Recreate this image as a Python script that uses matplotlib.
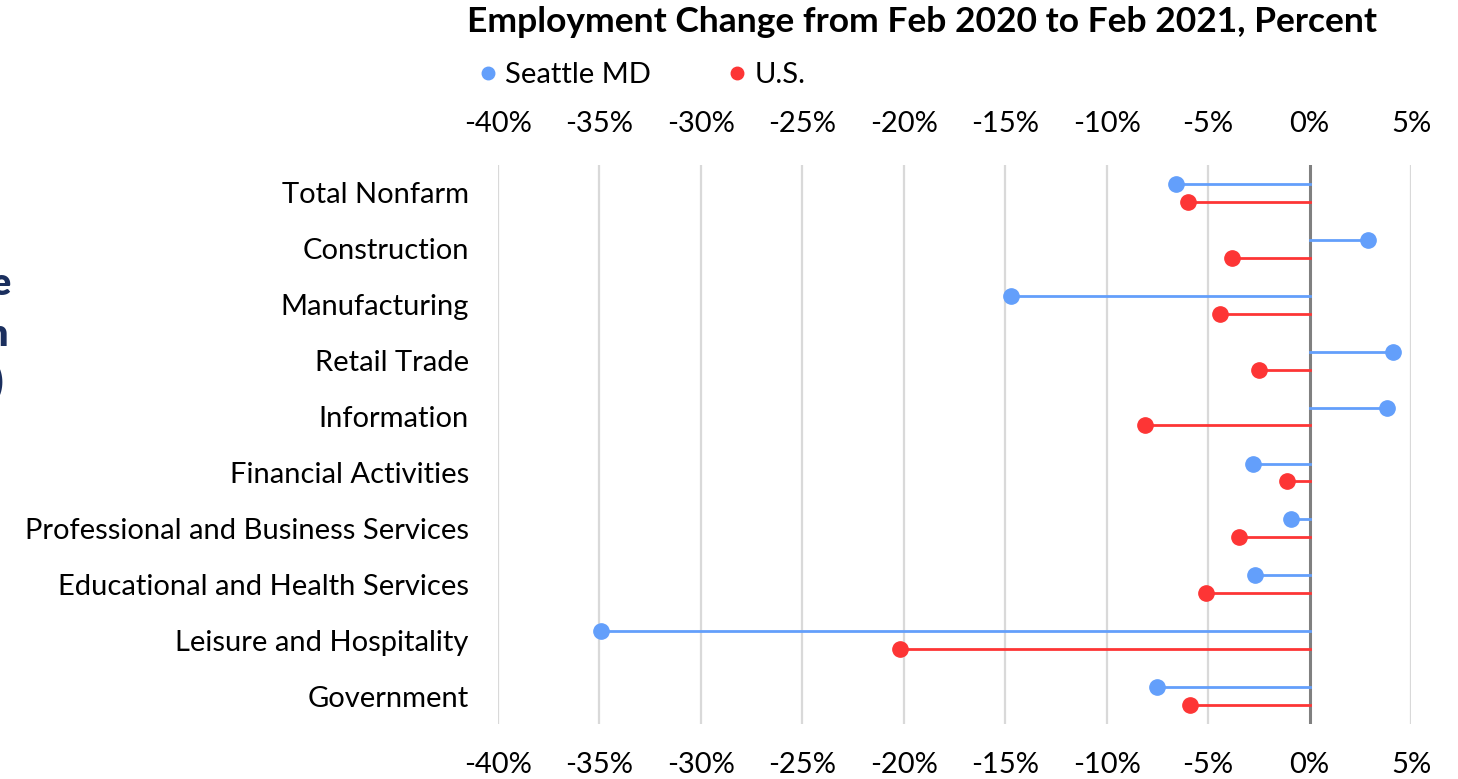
import matplotlib
matplotlib.use('Agg')
import matplotlib.pyplot as plt
from matplotlib.lines import Line2D
from matplotlib.ticker import FuncFormatter

plt.rcParams['font.family'] = ['Lato', 'DejaVu Sans']

industries = ['Total Nonfarm', 'Construction', 'Manufacturing', 'Retail Trade',
              'Information', 'Financial Activities',
              'Professional and Business Services',
              'Educational and Health Services', 'Leisure and Hospitality',
              'Government']
seattle = [-6.6, 2.9, -14.7, 4.1, 3.8, -2.8, -0.9, -2.7, -34.9, -7.5]
us = [-6.0, -3.8, -4.4, -2.5, -8.1, -1.1, -3.5, -5.1, -20.2, -5.9]
xticks = [-40, -35, -30, -25, -20, -15, -10, -5, 0, 5]

blue = '#639ffb'
red = '#fd3535'

W, H = 1458, 779
fig = plt.figure(figsize=(W / 100, H / 100), dpi=100)
ax = fig.add_axes([498 / W, 1 - 724 / H, (1411 - 498) / W, (724 - 165) / H])

off = 0.16
for i, (s, u) in enumerate(zip(seattle, us)):
    ax.plot([0, s], [i - off, i - off], color=blue, lw=2, zorder=3)
    ax.plot([s], [i - off], 'o', color=blue, ms=11, zorder=4)
    ax.plot([0, u], [i + off, i + off], color=red, lw=2, zorder=3)
    ax.plot([u], [i + off], 'o', color=red, ms=11, zorder=4)

ax.axvline(0, color='#808080', lw=2.2, zorder=2)
for t in xticks:
    if t != 0:
        ax.axvline(t, color='#d9d9d9', lw=1.6, zorder=1)

ax.set_xlim(-40, 5)
ax.set_ylim(len(industries) - 0.5, -0.5)
ax.set_xticks(xticks)
ax.xaxis.set_major_formatter(FuncFormatter(lambda v, p: f'{v:.0f}%'))
ax.set_yticks(range(len(industries)))
ax.set_yticklabels(industries)
ax.tick_params(axis='x', length=0, labelsize=21, pad=20,
               labeltop=True, labelbottom=True)
ax.tick_params(axis='y', length=0, labelsize=21, pad=21)
for sp in ax.spines.values():
    sp.set_visible(False)

fig.text(467 / W, 1 - 22 / H, 'Employment Change from Feb 2020 to Feb 2021, Percent',
         fontsize=25.5, fontweight='bold', ha='left', va='center')

handles = [Line2D([], [], marker='o', ls='none', color=blue, ms=9),
           Line2D([], [], marker='o', ls='none', color=red, ms=9)]
fig.legend(handles, ['Seattle MD', 'U.S.'], loc='center left',
           bbox_to_anchor=(444 / W, 1 - 75 / H), ncol=2, frameon=False,
           fontsize=21, handletextpad=0.0, columnspacing=2.35, handlelength=1.2)

# clipped heading from the neighbouring panel
for y, x, s in [(284, 10, 'e'), (335, 8, 'n'), (382, 3, ')')]:
    fig.text(x / W, 1 - y / H, s, fontsize=27, fontweight='heavy',
             color='#1b2f5e', ha='right', va='center')

fig.savefig('out.png', dpi=100)
